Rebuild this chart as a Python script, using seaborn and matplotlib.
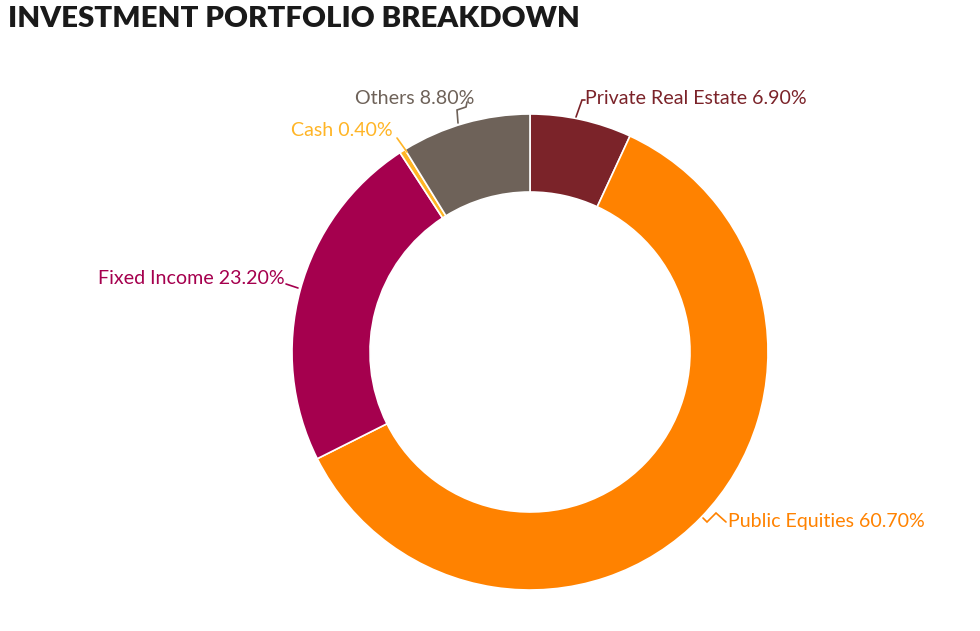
import matplotlib
matplotlib.use("Agg")
import matplotlib.pyplot as plt
import seaborn as sns

sns.set_theme(style="white")
plt.rcParams['font.family'] = ['Lato', 'DejaVu Sans']

# ---- data ----
categories = ["Private Real Estate", "Public Equities", "Fixed Income", "Cash", "Others"]
values = [6.9, 60.7, 23.2, 0.4, 8.8]
colors = ["#7B2329", "#FF8200", "#A5004E", "#FFB526", "#6E6259"]
title = "INVESTMENT PORTFOLIO BREAKDOWN"

W, H = 980, 631
fig = plt.figure(figsize=(W / 100, H / 100), dpi=100)
ax = fig.add_axes([0, 0, 1, 1])
ax.set_xlim(0, W)
ax.set_ylim(0, H)
ax.set_aspect("equal")
ax.axis("off")

cx, cy = 530, H - 352
R = 238
ax.pie(values, colors=colors, startangle=90, counterclock=False,
       center=(cx, cy), radius=R,
       wedgeprops=dict(width=78, edgecolor="white", linewidth=1.2))
ax.set_xlim(0, W)
ax.set_ylim(0, H)

# label layout (pixel coords, y from top): text anchor, alignment, connector polyline
layout = {
    "Private Real Estate": dict(xy=(585, 97), ha="left",
                                line=[(576, 117), (582, 100), (585, 100)]),
    "Public Equities": dict(xy=(728, 521), ha="left",
                            line=[(703, 518), (707, 522), (716, 513), (726, 522)]),
    "Fixed Income": dict(xy=(285, 278), ha="right",
                         line=[(286, 284), (298, 288)]),
    "Cash": dict(xy=(393, 130), ha="right",
                 line=[(397, 138), (407, 152)]),
    "Others": dict(xy=(474, 97), ha="right",
                   line=[(458, 123), (457, 110), (466, 107), (467, 102)]),
}

for cat, val, col in zip(categories, values, colors):
    L = layout[cat]
    xs = [p[0] for p in L["line"]]
    ys = [H - p[1] for p in L["line"]]
    ax.plot(xs, ys, color=col, lw=1.2, solid_joinstyle="miter")
    ax.text(L["xy"][0], H - L["xy"][1] - 1, f"{cat} {val:.2f}%", color=col,
            ha=L["ha"], va="center", fontsize=14.1)

fig.text(8 / W, 1 - 19 / H, title, fontsize=21.2, fontweight="heavy",
         color="#1a1a1a", ha="left", va="center")

fig.savefig("out.png", dpi=100)
